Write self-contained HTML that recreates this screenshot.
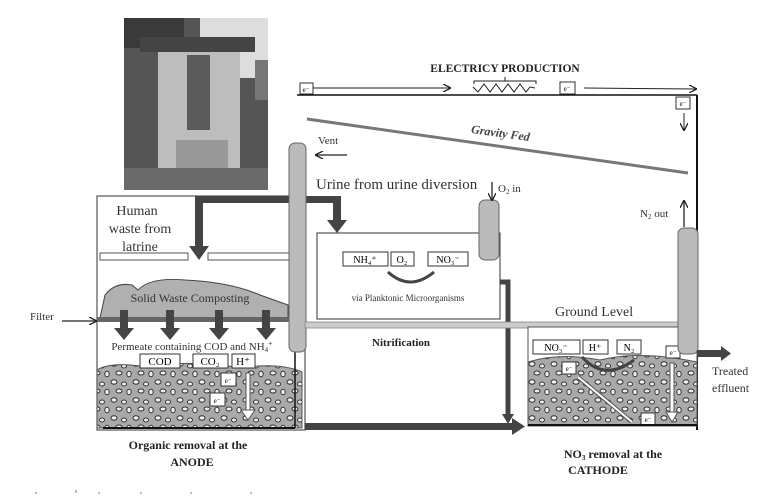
<!DOCTYPE html>
<html><head><meta charset="utf-8"><style>
html,body{margin:0;padding:0;background:#fff;}
svg{display:block;font-family:"Liberation Serif",serif;}
</style></head><body>
<svg width="772" height="501" viewBox="0 0 772 501" xmlns="http://www.w3.org/2000/svg">
<defs>
<pattern id="peb" width="22" height="18" patternUnits="userSpaceOnUse">
<rect width="22" height="18" fill="#a9a9a9"/>
<ellipse cx="4" cy="4" rx="3" ry="2.2" fill="#eee" stroke="#333" stroke-width="1"/>
<ellipse cx="14" cy="6" rx="2.5" ry="2" fill="#eee" stroke="#333" stroke-width="1"/>
<ellipse cx="9" cy="13" rx="3" ry="2" fill="#eee" stroke="#333" stroke-width="1"/>
<ellipse cx="19" cy="14" rx="2.2" ry="2.8" fill="#eee" stroke="#333" stroke-width="1"/>
</pattern>
<marker id="ah" markerWidth="8" markerHeight="8" refX="7" refY="4" orient="auto" markerUnits="userSpaceOnUse"><path d="M0,0 L8,4 L0,8" fill="none" stroke="#222" stroke-width="1.3"/></marker>
</defs>
<!-- photo -->
<rect x="124" y="18" width="144" height="172" fill="#555"/>
<rect x="200" y="18" width="68" height="60" fill="#ddd"/>
<rect x="124" y="18" width="60" height="30" fill="#3a3a3a"/>
<rect x="140" y="37" width="115" height="15" fill="#444"/>
<rect x="158" y="52" width="82" height="116" fill="#bdbdbd"/>
<rect x="187" y="55" width="23" height="75" fill="#5a5a5a"/>
<rect x="176" y="140" width="52" height="36" fill="#999"/>
<rect x="124" y="168" width="144" height="22" fill="#6a6a6a"/>
<rect x="255" y="60" width="13" height="40" fill="#777"/>
<!-- left box -->
<rect x="97" y="196" width="208" height="234" fill="#fff" stroke="#555" stroke-width="1.2"/>
<text x="137" y="215" font-size="14" text-anchor="middle" fill="#333">Human</text>
<text x="140" y="233" font-size="14" text-anchor="middle" fill="#333">waste from</text>
<text x="140" y="251" font-size="14" text-anchor="middle" fill="#333">latrine</text>
<rect x="100" y="253" width="88" height="7" fill="#fff" stroke="#555"/>
<rect x="208" y="253" width="90" height="7" fill="#fff" stroke="#555"/>
<rect x="195" y="196" width="8" height="52" fill="#444"/>
<path d="M189,246 L209,246 L199,260 Z" fill="#444"/>
<rect x="203" y="196" width="138" height="7" fill="#444"/>
<rect x="333" y="196" width="8" height="25" fill="#444"/>
<path d="M327,220 L347,220 L337,233 Z" fill="#444"/>
<path d="M100,318 L105,295 Q115,282 132,285 L138,290 Q150,277 185,280 Q230,282 260,295 L288,305 L288,318 Z" fill="#b0b0b0" stroke="#444"/>
<text x="190" y="302" font-size="12" text-anchor="middle" fill="#333">Solid Waste Composting</text>
<rect x="97" y="317" width="205" height="5" fill="#666"/>
<text x="30" y="320" font-size="11" fill="#333">Filter</text>
<line x1="62" y1="321" x2="96" y2="321" stroke="#222" stroke-width="1.2" marker-end="url(#ah)"/>
<g fill="#444">
<rect x="120" y="310" width="8" height="20"/><path d="M114,328 L134,328 L124,340Z"/>
<rect x="166" y="310" width="8" height="20"/><path d="M160,328 L180,328 L170,340Z"/>
<rect x="215" y="310" width="8" height="20"/><path d="M209,328 L229,328 L219,340Z"/>
<rect x="262" y="310" width="8" height="20"/><path d="M256,328 L276,328 L266,340Z"/>
</g>
<text x="192" y="350" font-size="11" text-anchor="middle" fill="#333">Permeate containing COD and NH<tspan font-size="7" dy="2">4</tspan><tspan dy="-6" font-size="8">+</tspan></text>
<path d="M97,428 L97,370 Q110,362 140,366 Q200,360 240,368 Q280,362 302,372 L302,428 Z" fill="url(#peb)" stroke="#555"/>
<rect x="140" y="354" width="40" height="14" fill="#fff" stroke="#333"/><text x="160" y="365" font-size="11" text-anchor="middle">COD</text>
<rect x="193" y="354" width="35" height="14" fill="#fff" stroke="#333"/><text x="210" y="365" font-size="11" text-anchor="middle">CO₂</text>
<rect x="232" y="354" width="23" height="14" fill="#fff" stroke="#333"/><text x="243" y="365" font-size="11" text-anchor="middle">H⁺</text>
<rect x="221" y="373" width="15" height="13" fill="#fff" stroke="#333"/><text x="228" y="383" font-size="7" text-anchor="middle">e⁻</text>
<rect x="210" y="393" width="15" height="13" fill="#fff" stroke="#333"/><text x="217" y="403" font-size="7" text-anchor="middle">e⁻</text>
<rect x="246" y="373" width="4" height="40" fill="#fff" stroke="#555"/>
<path d="M241,410 L255,410 L248,420Z" fill="#fff" stroke="#555"/>
<line x1="103" y1="428" x2="295" y2="428" stroke="#111" stroke-width="2"/>
<line x1="295" y1="352" x2="295" y2="428" stroke="#111" stroke-width="1.5"/>
<rect x="289" y="143" width="17" height="209" rx="6" fill="#bbb" stroke="#666"/>
<text x="188" y="449" font-size="12" font-weight="bold" text-anchor="middle" fill="#222">Organic removal at the</text>
<text x="192" y="466" font-size="12" font-weight="bold" text-anchor="middle" fill="#222">ANODE</text>
<!-- wire -->
<text x="505" y="72" font-size="11.5" font-weight="bold" text-anchor="middle" fill="#222">ELECTRICY PRODUCTION</text>
<rect x="300" y="83" width="13" height="11" fill="#fff" stroke="#333"/><text x="306" y="92" font-size="7" text-anchor="middle">e⁻</text>
<line x1="313" y1="88" x2="450" y2="88" stroke="#222" stroke-width="1" marker-end="url(#ah)"/>
<path d="M473,87 L478,92 L484,84 L490,92 L496,84 L502,92 L508,84 L514,92 L520,84 L526,92 L530,87 L535,88" fill="none" stroke="#222"/>
<path d="M474,84 L474,81 L536,81 L536,84 M505,81 L505,77" fill="none" stroke="#222"/>
<rect x="560" y="82" width="15" height="12" fill="#fff" stroke="#333"/><text x="567" y="91" font-size="7" text-anchor="middle">e⁻</text>
<line x1="584" y1="88" x2="696" y2="89" stroke="#222" stroke-width="1" marker-end="url(#ah)"/>
<line x1="697" y1="95" x2="697" y2="430" stroke="#111" stroke-width="2"/>
<line x1="297" y1="95" x2="697" y2="95" stroke="#111" stroke-width="1.5"/>
<rect x="676" y="97" width="14" height="12" fill="#fff" stroke="#333"/><text x="683" y="106" font-size="7" text-anchor="middle">e⁻</text>
<line x1="684" y1="113" x2="684" y2="130" stroke="#222" marker-end="url(#ah)"/>
<line x1="307" y1="119" x2="688" y2="173" stroke="#777" stroke-width="3"/>
<text x="500" y="137" font-size="12" font-weight="bold" font-style="italic" fill="#444" transform="rotate(8 500 137)" text-anchor="middle">Gravity Fed</text>
<text x="318" y="144" font-size="11" fill="#333">Vent</text>
<line x1="347" y1="155" x2="316" y2="155" stroke="#222" stroke-width="1.3" marker-end="url(#ah)"/>
<text x="316" y="189" font-size="15" fill="#333">Urine from urine diversion</text>
<!-- nitrification -->
<rect x="317" y="233" width="183" height="86" fill="#fff" stroke="#555" stroke-width="1.2"/>
<rect x="343" y="252" width="45" height="14" fill="#fff" stroke="#333"/><text x="365" y="263" font-size="10" text-anchor="middle">NH₄⁺</text>
<rect x="391" y="252" width="23" height="14" fill="#fff" stroke="#333"/><text x="402" y="263" font-size="10" text-anchor="middle">O₂</text>
<rect x="428" y="252" width="40" height="14" fill="#fff" stroke="#333"/><text x="448" y="263" font-size="10" text-anchor="middle">NO₃⁻</text>
<path d="M388,272 Q410,292 434,272" fill="none" stroke="#444" stroke-width="3"/>
<text x="408" y="301" font-size="9" text-anchor="middle" fill="#333">via Planktonic Microorganisms</text>
<rect x="479" y="200" width="20" height="60" rx="6" fill="#bbb" stroke="#666"/>
<text x="498" y="192" font-size="11" fill="#333">O<tspan font-size="7" dy="2">2</tspan><tspan dy="-2"> in</tspan></text>
<line x1="492" y1="182" x2="492" y2="200" stroke="#222" stroke-width="1.3" marker-end="url(#ah)"/>
<path d="M500,282 L508,282 L508,418" fill="none" stroke="#444" stroke-width="5"/>
<path d="M502,414 L514,414 L508,424Z" fill="#444"/>
<rect x="305" y="322" width="374" height="6" fill="#ccc" stroke="#888" stroke-width="0.8"/>
<text x="555" y="316" font-size="14" fill="#333">Ground Level</text>
<text x="372" y="346" font-size="11" font-weight="bold" fill="#222">Nitrification</text>
<rect x="305" y="423" width="210" height="7" fill="#444"/>
<path d="M512,418 L525,426.5 L512,435Z" fill="#444"/>
<!-- cathode -->
<rect x="528" y="327" width="169" height="99" fill="#fff" stroke="#555"/>
<path d="M528,425 L528,362 Q560,352 600,360 Q640,350 697,362 L697,425 Z" fill="url(#peb)" stroke="#555"/>
<rect x="533" y="340" width="47" height="14" fill="#fff" stroke="#333"/><text x="556" y="351" font-size="10" text-anchor="middle">NO₃⁻</text>
<rect x="583" y="340" width="25" height="14" fill="#fff" stroke="#333"/><text x="595" y="351" font-size="10" text-anchor="middle">H⁺</text>
<rect x="617" y="340" width="24" height="14" fill="#fff" stroke="#333"/><text x="629" y="351" font-size="10" text-anchor="middle">N₂</text>
<path d="M582,357 Q605,382 634,360" fill="none" stroke="#444" stroke-width="3"/>
<rect x="562" y="362" width="14" height="12" fill="#fff" stroke="#333"/><text x="569" y="371" font-size="7" text-anchor="middle">e⁻</text>
<line x1="578" y1="377" x2="632" y2="422" stroke="#555" stroke-width="4"/><line x1="578" y1="377" x2="632" y2="422" stroke="#fff" stroke-width="2"/>
<rect x="641" y="413" width="14" height="12" fill="#fff" stroke="#333"/><text x="648" y="422" font-size="7" text-anchor="middle">e⁻</text>
<rect x="666" y="346" width="14" height="12" fill="#fff" stroke="#333"/><text x="673" y="355" font-size="7" text-anchor="middle">e⁻</text>
<rect x="670" y="363" width="4" height="52" fill="#fff" stroke="#555"/>
<path d="M666,412 L678,412 L672,422Z" fill="#fff" stroke="#555"/>
<line x1="528" y1="425" x2="697" y2="425" stroke="#111" stroke-width="2"/>
<rect x="678" y="228" width="20" height="126" rx="6" fill="#bbb" stroke="#666"/>
<text x="640" y="217" font-size="11" fill="#333">N<tspan font-size="7" dy="2">2</tspan><tspan dy="-2"> out</tspan></text>
<line x1="684" y1="227" x2="684" y2="201" stroke="#222" stroke-width="1.3" marker-end="url(#ah)"/>
<rect x="697" y="350" width="26" height="7" fill="#444"/>
<path d="M721,346 L731,353.5 L721,361Z" fill="#444"/>
<text x="712" y="375" font-size="12" fill="#333">Treated</text>
<text x="712" y="392" font-size="12" fill="#333">effluent</text>
<text x="613" y="458" font-size="12" font-weight="bold" text-anchor="middle" fill="#222">NO<tspan font-size="7" dy="2">3</tspan><tspan dy="-2"> removal at the</tspan></text>
<text x="598" y="474" font-size="12" font-weight="bold" text-anchor="middle" fill="#222">CATHODE</text>
<g fill="#bbb"><rect x="35" y="492" width="2" height="2"/><rect x="75" y="490" width="2" height="3"/><rect x="98" y="492" width="2" height="2"/><rect x="140" y="492" width="2" height="2"/><rect x="190" y="492" width="2" height="2"/><rect x="250" y="492" width="2" height="2"/></g>
</svg>
</body></html>
